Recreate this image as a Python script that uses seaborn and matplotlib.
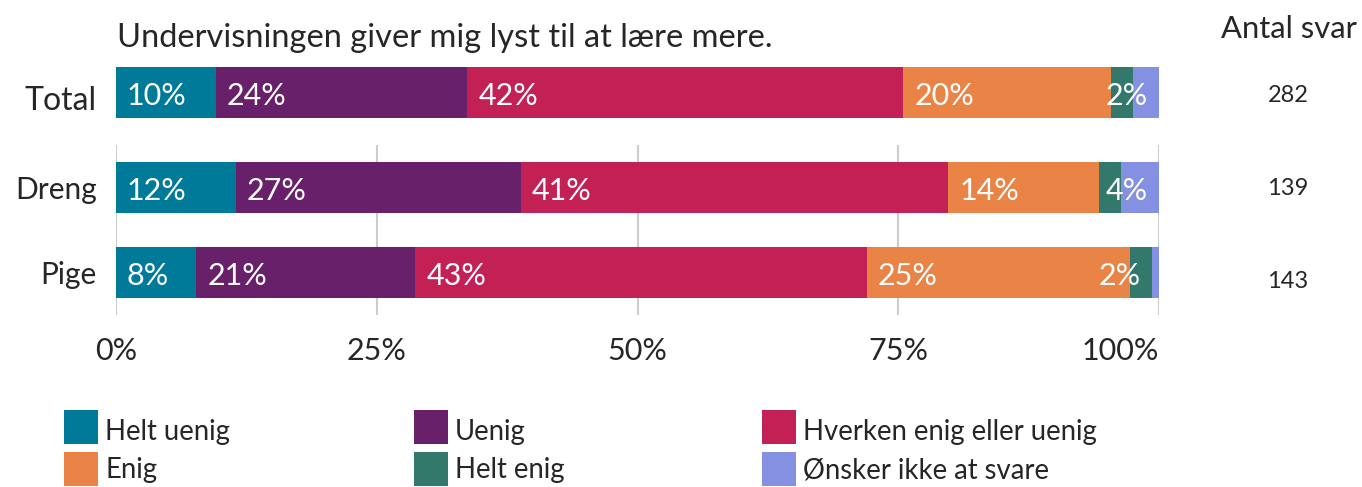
import matplotlib
matplotlib.use("Agg")
import matplotlib.pyplot as plt
from matplotlib.patches import Rectangle
from matplotlib.transforms import ScaledTranslation
import numpy as np
import pandas as pd
import seaborn as sns

# --- data -------------------------------------------------------------
title = "Undervisningen giver mig lyst til at lære mere."
answers = ["Helt uenig", "Uenig", "Hverken enig eller uenig",
           "Enig", "Helt enig", "Ønsker ikke at svare"]
colors = ["#007A99", "#69206A", "#C32056", "#E98346", "#32786B", "#8490E2"]

groups = ["Total", "Dreng", "Pige"]
pct_total = [9.6, 24.1, 41.8, 19.9, 2.1, 2.5]
pct_dreng = [11.5, 27.3, 41.0, 14.4, 2.2, 3.6]
pct_pige = [7.7, 21.0, 43.3, 25.2, 2.1, 0.7]
n_answers = [282, 139, 143]
xticks = [0, 25, 50, 75, 100]
xtick_labels = ["0%", "25%", "50%", "75%", "100%"]

rows = []
for g, vals in zip(groups, [pct_total, pct_dreng, pct_pige]):
    cum = np.cumsum(vals)
    for a, v, c in zip(answers, vals, cum):
        rows.append({"group": g, "answer": a, "pct": v, "cum": c})
df = pd.DataFrame(rows)

# --- style ------------------------------------------------------------
sns.set_style("white")
plt.rcParams["font.family"] = ["Lato", "DejaVu Sans"]

W, H = 1362, 487
fig = plt.figure(figsize=(W / 100, H / 100), dpi=100)


def box(left, top, width, height):
    return [left / W, 1 - (top + height) / H, width / W, height / H]


ax_top = fig.add_axes(box(116, 49.5, 1043, 85))
ax_bot = fig.add_axes(box(116, 145, 1043, 170))
ax_n = fig.add_axes(box(1220, 49, 136, 279))

panels = [(ax_top, ["Total"]), (ax_bot, ["Dreng", "Pige"])]
for ax, order in panels:
    sub = df[df["group"].isin(order)]
    # stacked bars: draw cumulative totals from the outermost segment inwards
    for ans, col in reversed(list(zip(answers, colors))):
        sns.barplot(data=sub[sub["answer"] == ans], x="cum", y="group",
                    order=order, orient="h", color=col, saturation=1,
                    width=0.6, errorbar=None, linewidth=0, ax=ax)
    ax.set_xlim(0, 100)
    ax.set_xlabel("")
    ax.set_ylabel("")
    ax.tick_params(axis="both", length=0)
    sns.despine(ax=ax, left=True, bottom=True)

    # value labels inside the segments
    for yi, g in enumerate(order):
        gd = sub[sub["group"] == g]
        small = gd[gd["pct"] < 5]
        biggest_small = small["pct"].max() if len(small) else None
        for _, r in gd.iterrows():
            start = r["cum"] - r["pct"]
            txt = f"{round(r['pct']):.0f}%"
            kw = dict(textcoords="offset points", va="center_baseline",
                      color="white", fontsize=22)
            if r["pct"] >= 5:
                ax.annotate(txt, xy=(start, yi), xytext=(7.9, -1), ha="left", **kw)
            elif r["pct"] == biggest_small:
                ax.annotate(txt, xy=(r["cum"], yi), xytext=(-7.9, -1), ha="right", **kw)

ax_top.set_xticks([])
ax_top.set_yticks([0])
ax_top.set_yticklabels(["Total"], fontsize=23)
ax_top.tick_params(axis="y", pad=14)
total_lbl = ax_top.get_yticklabels()[0]
total_lbl.set_transform(total_lbl.get_transform()
                        + ScaledTranslation(0, -0.06, fig.dpi_scale_trans))

ax_bot.set_xticks(xticks)
ax_bot.set_xticklabels(xtick_labels, fontsize=22)
ax_bot.get_xticklabels()[-1].set_ha("right")
ax_bot.tick_params(axis="x", pad=16)
ax_bot.tick_params(axis="y", pad=14, labelsize=21.5)
ax_bot.grid(axis="x", color="#cccccc", linewidth=1.5)
ax_bot.grid(axis="y", visible=False)
ax_bot.set_axisbelow(True)

# number of answers column
ax_n.set_xlim(0, 1)
ax_n.set_ylim(len(groups) - 0.5, -0.5)
ax_n.axis("off")
for i, n in enumerate(n_answers):
    ax_n.text(0.5, i, str(n), ha="center", va="center", fontsize=17)

fig.text(117 / W, 1 - 47 / H, title, ha="left", va="baseline", fontsize=23.5)
fig.text(1357 / W, 1 - 38 / H, "Antal svar", ha="right", va="baseline", fontsize=22.3)

# legend: three columns of two entries, colour key squares with labels
col_x = [64, 414, 762]
row_top = [410, 452]
row_base = [440, 478]
for k, (ans, col) in enumerate(zip(answers, colors)):
    r, c = divmod(k, 3)
    x, y = col_x[c], row_top[r]
    fig.add_artist(Rectangle((x / W, 1 - (y + 34) / H), 34 / W, 34 / H,
                             transform=fig.transFigure, facecolor=col,
                             edgecolor="none"))
    fig.text((x + 41) / W, 1 - row_base[r] / H, ans, ha="left",
             va="baseline", fontsize=19.8)

fig.savefig("out.png", dpi=100, facecolor="white")
